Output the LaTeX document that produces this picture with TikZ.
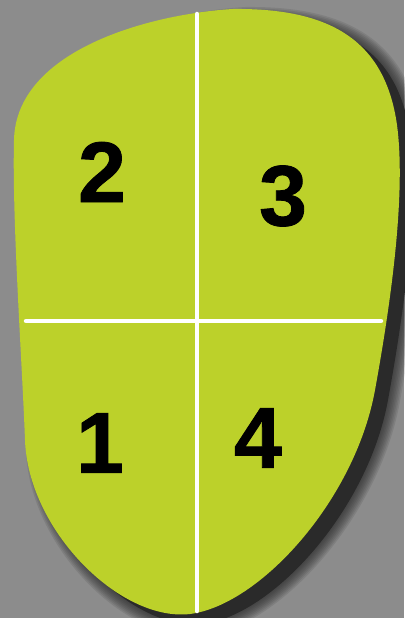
\documentclass[tikz,border=0pt]{standalone}
\usepackage{fontspec}
\setmainfont{Liberation Sans}
\newfontfamily\digitfont{Liberation Sans Bold}[FakeBold=1]

\definecolor{bggray}{HTML}{8C8C8C}
\definecolor{lime}{HTML}{BCD12A}
\definecolor{shadowgray}{HTML}{2A2A2A}

% Contour de la forme (coordonnees en pixels, y vers le bas)
\def\blob{(233,9) .. controls (330,8) and (385,40) .. (397,125)
  .. controls (405,185) and (395,280) .. (375,390)
  .. controls (355,500) and (260,605) .. (190,614)
  .. controls (120,622) and (28,530) .. (25,440)
  .. controls (22,360) and (12,220) .. (14,140)
  .. controls (16,50) and (150,14) .. (233,9) -- cycle}

\tikzset{
  digit/.style={font=\digitfont\fontsize{86}{86}\selectfont, text=black, inner sep=0pt},
  divider/.style={draw=white, line width=4.5pt, line cap=round},
}

\begin{document}
\begin{tikzpicture}[x=1pt, y=-1pt]
  % Fond
  \fill[bggray] (0,0) rectangle (404,618);
  \useasboundingbox (0,0) rectangle (404,618);

  % Ombre portee (flou approche)
  \begin{scope}[shift={(13,10)}]
    \foreach \w in {24,21,...,3}
      \draw[shadowgray, line width=\w pt, opacity=0.13, line join=round] \blob;
    \fill[shadowgray] \blob;
  \end{scope}

  % La forme
  \fill[lime] \blob;

  % Points cles
  \coordinate (TOP) at (197,14);
  \coordinate (BOT) at (197,611);
  \coordinate (LEFT) at (26,321);
  \coordinate (RIGHT) at (381,321);

  % Separations
  \draw[divider] (TOP) -- (BOT);
  \draw[divider] (LEFT) -- (RIGHT);

  % Numeros
  \node[digit] (n2) at (102,172) {2};
  \node[digit] (n3) at (283,196) {3};
  \node[digit] (n1) at (100,443) {1};
  \node[digit] (n4) at (258,438) {4};
\end{tikzpicture}
\end{document}
